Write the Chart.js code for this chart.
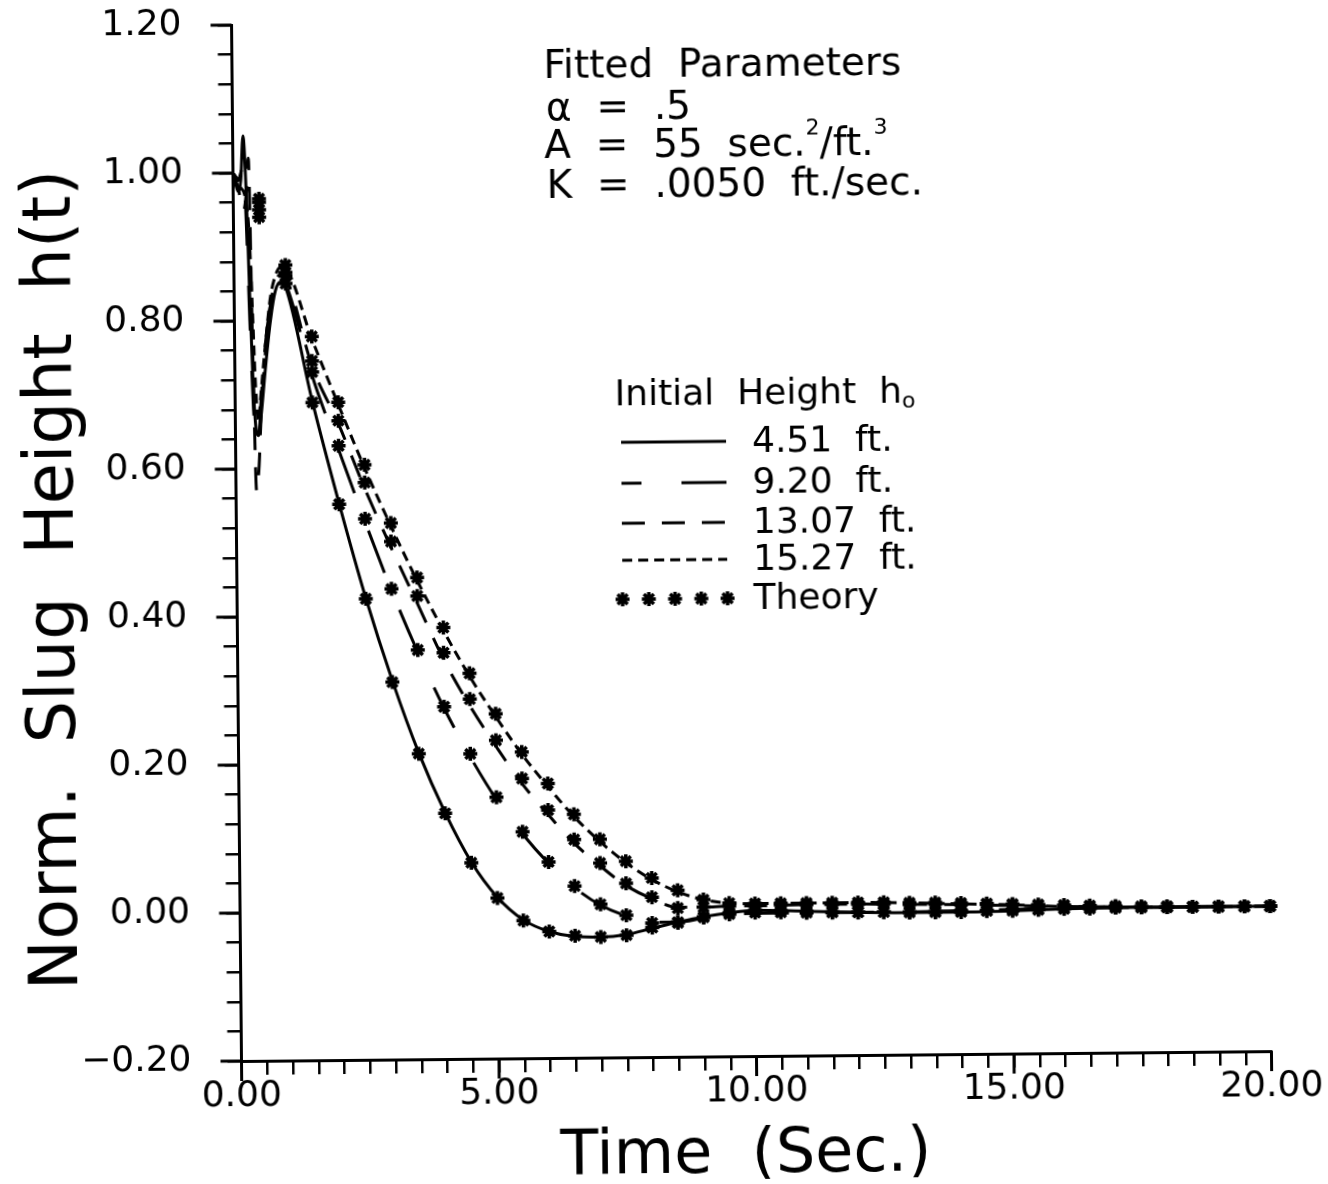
<!DOCTYPE html>
<html>
<head>
<meta charset="utf-8">
<script src="https://cdn.jsdelivr.net/npm/chart.js@4.4.1/dist/chart.umd.min.js"></script>
<style>
  html, body { margin: 0; padding: 0; background: #fff; }
  /* the scanned figure sits a little askew, so the canvas is turned about the plot origin */
  #chart { display: block; transform: rotate(-0.55deg); transform-origin: 241.5px 1061px; }
</style>
</head>
<body>
<canvas id="chart" width="1328" height="1184"></canvas>
<script>
const FONT = '"DejaVu Sans", sans-serif';

// measured traces (time in sec., normalized height)
const tExp = [0, 0.05, 0.1, 0.15, 0.2, 0.25, 0.3, 0.35, 0.4, 0.45, 0.5, 0.6, 0.7, 0.8, 0.9, 1.0,
  1.5, 2.0, 2.5, 3.0, 3.5, 4.0, 4.5, 5.0, 5.5, 6.0, 6.5, 7.0, 7.5, 8.0, 8.5, 9.0, 9.5, 10.0,
  11, 12, 13, 14, 15, 16, 17, 18, 19, 20];
const exp451 = [1.0, 0.985, 0.975, 0.99, 1.05, 0.98, 0.84, 0.72, 0.655, 0.645, 0.67, 0.74, 0.80, 0.84, 0.852, 0.845,
  0.69, 0.552, 0.424, 0.312, 0.214, 0.133, 0.066, 0.018, -0.013, -0.029, -0.036, -0.037, -0.034, -0.026, -0.018, -0.011, -0.006, -0.003,
  -0.005, -0.007, -0.008, -0.008, -0.007, -0.005, -0.004, -0.004, -0.004, -0.004];
const exp920 = [1.0, 0.995, 0.99, 1.0, 1.01, 0.93, 0.80, 0.69, 0.635, 0.64, 0.69, 0.77, 0.82, 0.848, 0.857, 0.85,
  0.725, 0.625, 0.527, 0.434, 0.35, 0.274, 0.208, 0.15, 0.103, 0.063, 0.03, 0.006, -0.009, -0.018, -0.018, -0.013, -0.009, -0.007,
  -0.007, -0.007, -0.007, -0.006, -0.005, -0.004, -0.004, -0.004, -0.004, -0.004];
const exp1307 = [1.0, 0.99, 0.98, 0.96, 0.95, 0.97, 1.02, 0.76, 0.57, 0.6, 0.67, 0.76, 0.82, 0.852, 0.862, 0.858,
  0.738, 0.66, 0.572, 0.492, 0.416, 0.34, 0.277, 0.222, 0.171, 0.129, 0.09, 0.059, 0.032, 0.014, 0.002, 0.002, 0.003, 0.003,
  0.004, 0.004, 0.003, 0.002, 0.0, -0.002, -0.003, -0.004, -0.004, -0.004];
const exp1527 = [1.0, 0.995, 0.99, 0.98, 0.975, 0.96, 0.92, 0.82, 0.71, 0.665, 0.70, 0.77, 0.83, 0.86, 0.872, 0.87,
  0.775, 0.686, 0.6, 0.521, 0.447, 0.379, 0.317, 0.262, 0.211, 0.167, 0.126, 0.092, 0.063, 0.04, 0.023, 0.012, 0.007, 0.006,
  0.006, 0.006, 0.005, 0.003, 0.001, -0.002, -0.003, -0.004, -0.004, -0.004];

// theory points
const tTheory = [0.5, 1, 1.5, 2, 2.5, 3, 3.5, 4, 4.5, 5, 5.5, 6, 6.5, 7, 7.5, 8, 8.5, 9, 9.5, 10,
  10.5, 11, 11.5, 12, 12.5, 13, 13.5, 14, 14.5, 15, 15.5, 16, 16.5, 17, 17.5, 18, 18.5, 19, 19.5, 20];
const th451 = [0.94, 0.85, 0.689, 0.551, 0.423, 0.31, 0.213, 0.132, 0.065, 0.017, -0.014, -0.029, -0.035, -0.037, -0.035, -0.025, -0.019, -0.011, -0.006, -0.003,
  -0.004, -0.005, -0.006, -0.007, -0.007, -0.008, -0.008, -0.008, -0.007, -0.007, -0.006, -0.005, -0.005, -0.004, -0.004, -0.004, -0.004, -0.004, -0.004, -0.004];
const th920 = [0.95, 0.86, 0.73, 0.63, 0.531, 0.436, 0.353, 0.276, 0.212, 0.153, 0.106, 0.065, 0.032, 0.007, -0.008, -0.019, -0.018, -0.012, -0.008, -0.006,
  -0.006, -0.007, -0.007, -0.007, -0.007, -0.007, -0.007, -0.006, -0.006, -0.005, -0.005, -0.004, -0.004, -0.004, -0.004, -0.004, -0.004, -0.004, -0.004, -0.004];
const th1307 = [0.96, 0.865, 0.745, 0.664, 0.58, 0.50, 0.426, 0.349, 0.286, 0.23, 0.178, 0.135, 0.095, 0.063, 0.035, 0.016, 0.001, 0.002, 0.003, 0.003,
  0.004, 0.004, 0.004, 0.004, 0.004, 0.003, 0.003, 0.002, 0.002, 0.001, 0.0, -0.001, -0.002, -0.003, -0.003, -0.004, -0.004, -0.004, -0.004, -0.004];
const th1527 = [0.965, 0.875, 0.778, 0.689, 0.604, 0.525, 0.451, 0.383, 0.321, 0.266, 0.214, 0.171, 0.129, 0.095, 0.065, 0.042, 0.025, 0.012, 0.007, 0.006,
  0.006, 0.006, 0.006, 0.006, 0.006, 0.005, 0.005, 0.004, 0.003, 0.002, 0.001, 0.0, -0.001, -0.002, -0.003, -0.003, -0.004, -0.004, -0.004, -0.004];

const seriesLabels = ['4.51  ft.', '9.20  ft.', '13.07  ft.', '15.27  ft.'];
const theoryLabel = 'Theory';
const xMajor = [0, 5, 10, 15, 20];
const yMajor = [-0.2, 0, 0.2, 0.4, 0.6, 0.8, 1.0, 1.2];

const pairs = (xs, ys) => xs.map((x, i) => ({ x: x, y: ys[i] }));

const traceSet = (label, values, dash, offset) => ({
  label: label,
  data: pairs(tExp, values),
  showLine: true,
  borderColor: '#000',
  borderWidth: 3,
  borderDash: dash,
  borderDashOffset: offset,
  pointRadius: 0,
  cubicInterpolationMode: 'monotone',
  clip: false,
  order: 2
});

const theorySet = (label, values) => ({
  label: label,
  data: pairs(tTheory, values),
  showLine: false,
  pointStyle: 'star',
  pointRadius: 7,
  borderColor: '#000',
  backgroundColor: '#000',
  borderWidth: 3.5,
  clip: false,
  order: 1
});

function fmtY(v) {
  if (Math.abs(v) < 1e-9) return '0.00';
  return (v < 0 ? '\u2212' : '') + Math.abs(v).toFixed(2);
}

// draws text pieces one after another, some raised or lowered
function drawRuns(ctx, x, y, runs) {
  runs.forEach(r => {
    ctx.font = r.size + 'px ' + FONT;
    ctx.fillText(r.t, x, y + (r.dy || 0));
    x += ctx.measureText(r.t).width;
  });
}

function drawStar(ctx, x, y) {
  if (Chart.helpers && Chart.helpers.drawPoint) {
    Chart.helpers.drawPoint(ctx, { pointStyle: 'star', radius: 7, rotation: 0, borderWidth: 3.5 }, x, y);
    return;
  }
  ctx.beginPath();
  for (let a = 0; a < 4; a++) {
    const ang = a * Math.PI / 4;
    ctx.moveTo(x - 7 * Math.cos(ang), y - 7 * Math.sin(ang));
    ctx.lineTo(x + 7 * Math.cos(ang), y + 7 * Math.sin(ang));
  }
  ctx.stroke();
}

const majorTicks = {
  id: 'majorTicks',
  afterDraw(chart) {
    const { ctx, chartArea, scales } = chart;
    ctx.save();
    ctx.strokeStyle = '#000';
    ctx.lineWidth = 3;
    xMajor.forEach(v => {
      const px = scales.x.getPixelForValue(v);
      ctx.beginPath();
      ctx.moveTo(px, chartArea.bottom);
      ctx.lineTo(px, chartArea.bottom + 20);
      ctx.stroke();
    });
    yMajor.forEach(v => {
      const py = scales.y.getPixelForValue(v);
      ctx.beginPath();
      ctx.moveTo(chartArea.left, py);
      ctx.lineTo(chartArea.left - 21, py);
      ctx.stroke();
    });
    ctx.restore();
  }
};

const textLayer = {
  id: 'textLayer',
  afterDraw(chart) {
    const ctx = chart.ctx;
    const ds = chart.data.datasets;
    ctx.save();
    ctx.fillStyle = '#000';
    ctx.strokeStyle = '#000';
    ctx.textAlign = 'left';
    ctx.textBaseline = 'alphabetic';

    // axis titles
    ctx.font = '62px ' + FONT;
    ctx.textAlign = 'center';
    ctx.fillText('Time  (Sec.)', 745, 1177);
    ctx.save();
    ctx.translate(78, 578);
    ctx.rotate(-Math.PI / 2);
    ctx.font = '67px ' + FONT;
    ctx.fillText('Norm.  Slug  Height  h(t)', 0, 0);
    ctx.restore();
    ctx.textAlign = 'left';

    // fitted parameters
    drawRuns(ctx, 553, 81, [{ t: 'Fitted  Parameters', size: 39 }]);
    drawRuns(ctx, 555, 123, [{ t: '\u03b1  =  .5', size: 39 }]);
    drawRuns(ctx, 553, 161, [
      { t: 'A  =  55  sec.', size: 39 },
      { t: '2', size: 22, dy: -21 },
      { t: '/ft.', size: 39 },
      { t: '3', size: 22, dy: -21 }
    ]);
    drawRuns(ctx, 555, 201, [{ t: 'K  =  .0050  ft./sec.', size: 39 }]);

    // legend
    const lx = 627, lw = 105, tx = 758;
    const rows = [446, 487, 527, 564, 603];
    drawRuns(ctx, 621, 409, [
      { t: 'Initial  Height  h', size: 36 },
      { t: 'o', size: 22, dy: 5 }
    ]);
    ctx.font = '36px ' + FONT;
    ctx.textBaseline = 'middle';
    for (let i = 0; i < 4; i++) {
      const d = ds[i];
      ctx.save();
      ctx.lineWidth = d.borderWidth;
      ctx.setLineDash(d.borderDash || []);
      ctx.lineDashOffset = d.borderDashOffset || 0;
      ctx.beginPath();
      ctx.moveTo(lx, rows[i]);
      ctx.lineTo(lx + lw, rows[i]);
      ctx.stroke();
      ctx.restore();
      ctx.fillText(d.label, tx, rows[i] + 2);
    }
    ctx.lineWidth = 3.5;
    for (let k = 0; k < 5; k++) drawStar(ctx, lx + k * lw / 4, rows[4]);
    ctx.fillText(ds[4].label, tx, rows[4] + 2);
    ctx.restore();
  }
};

new Chart(document.getElementById('chart'), {
  type: 'scatter',
  data: {
    datasets: [
      traceSet(seriesLabels[0], exp451, [], 0),
      traceSet(seriesLabels[1], exp920, [45, 40], 25),
      traceSet(seriesLabels[2], exp1307, [23, 17], 0),
      traceSet(seriesLabels[3], exp1527, [10, 6], 0),
      theorySet(theoryLabel, th451),
      theorySet(theoryLabel, th920),
      theorySet(theoryLabel, th1307),
      theorySet(theoryLabel, th1527)
    ]
  },
  options: {
    responsive: false,
    animation: false,
    devicePixelRatio: 1,
    layout: { padding: { left: 0, top: 25, right: 56.5, bottom: 0 } },
    plugins: { legend: { display: false }, tooltip: { enabled: false } },
    scales: {
      x: {
        type: 'linear',
        min: 0,
        max: 20,
        afterFit: s => { s.height = 123; s.paddingLeft = 0; s.paddingRight = 0; },
        border: { display: true, color: '#000', width: 3 },
        grid: { drawOnChartArea: false, drawTicks: true, tickLength: 14, color: '#000', lineWidth: 2.5 },
        ticks: {
          stepSize: 0.5,
          autoSkip: false,
          maxTicksLimit: 100,
          maxRotation: 0,
          padding: 0,
          color: '#000',
          font: { family: FONT, size: 36 },
          callback: v => (Math.abs(v / 5 - Math.round(v / 5)) < 1e-6 ? v.toFixed(2) : '')
        }
      },
      y: {
        type: 'linear',
        min: -0.2,
        max: 1.2,
        afterFit: s => { s.width = 241.5; s.paddingTop = 0; s.paddingBottom = 0; },
        border: { display: true, color: '#000', width: 3 },
        grid: { drawOnChartArea: false, drawTicks: true, tickLength: 14, color: '#000', lineWidth: 2.5 },
        ticks: {
          stepSize: 0.04,
          autoSkip: false,
          maxTicksLimit: 100,
          padding: 36,
          color: '#000',
          font: { family: FONT, size: 36 },
          callback: v => (Math.abs(v / 0.2 - Math.round(v / 0.2)) < 1e-6 ? fmtY(v) : '')
        }
      }
    }
  },
  plugins: [majorTicks, textLayer]
});
</script>
</body>
</html>
